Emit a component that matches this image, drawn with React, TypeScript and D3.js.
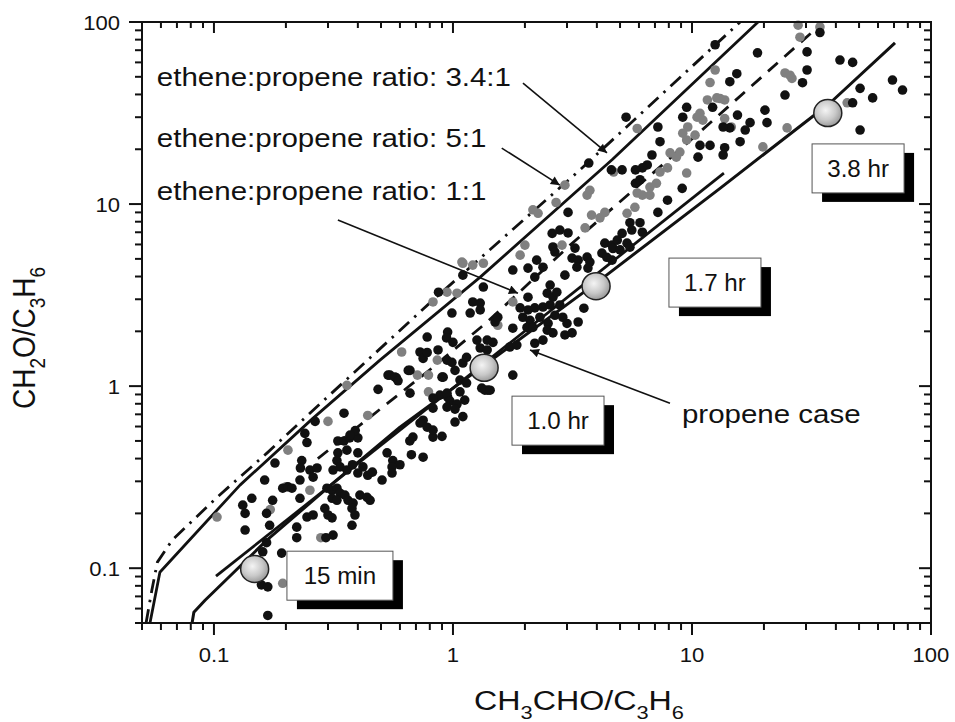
import React, { useEffect, useRef } from 'react';
import * as d3 from 'd3';

// axis tick labels
const xTickLabels = ['0.1', '1', '10', '100'];
const yTickLabels = ['0.1', '1', '10', '100'];

// measured samples, [CH3CHO/C3H6, CH2O/C3H6]
const blackPoints: [number, number][] = [
  [0.35, 0.71], [0.265, 0.64], [0.24, 0.55], [0.33, 0.5], [0.35, 0.5], [0.37, 0.52], [0.4, 0.52], [0.39, 0.57], [0.245, 0.49], [0.33, 0.43],
  [0.36, 0.445], [0.4, 0.43], [0.53, 0.43], [0.56, 0.39], [0.6, 0.37], [0.66, 0.5], [0.67, 0.42], [0.233, 0.39], [0.23, 0.355], [0.252, 0.346],
  [0.27, 0.355], [0.315, 0.346], [0.327, 0.39], [0.337, 0.36], [0.36, 0.346], [0.38, 0.37], [0.4, 0.333], [0.42, 0.36], [0.44, 0.324], [0.46, 0.337],
  [0.505, 0.305], [0.556, 0.36], [0.556, 0.333], [0.18, 0.378], [0.163, 0.305], [0.194, 0.275], [0.204, 0.28], [0.212, 0.275], [0.229, 0.305], [0.26, 0.316],
  [0.229, 0.242], [0.297, 0.275], [0.312, 0.268], [0.327, 0.275], [0.337, 0.258], [0.353, 0.252], [0.312, 0.242], [0.327, 0.236], [0.364, 0.236], [0.382, 0.228],
  [0.408, 0.252], [0.437, 0.245], [0.45, 0.236], [0.144, 0.242], [0.132, 0.222], [0.135, 0.2], [0.245, 0.191], [0.26, 0.196], [0.291, 0.213], [0.3, 0.196],
  [0.312, 0.189], [0.378, 0.213], [0.389, 0.196], [0.378, 0.172], [0.135, 0.162], [0.171, 0.172], [0.222, 0.168], [0.222, 0.147], [0.315, 0.152], [0.294, 0.147],
  [0.166, 0.138], [0.16, 0.123], [0.192, 0.121], [0.158, 0.081], [0.168, 0.079], [0.168, 0.055], [0.166, 0.2], [0.176, 0.236],
  [0.486, 0.96], [0.535, 1.15], [0.58, 1.11], [0.65, 1.22], [0.91, 1.12], [1.07, 0.93], [0.95, 0.87], [1.12, 0.838], [0.661, 0.915],
  [1.02, 0.635], [1.1, 0.68], [0.825, 0.525], [0.9, 0.53], [0.75, 0.65], [0.825, 0.757], [0.75, 0.407],
  [1.1, 4.07], [1.34, 3.5], [0.87, 3.28], [1.21, 2.9], [1.3, 2.86], [1.3, 2.62], [1.18, 2.52], [0.99, 2.52], [1.5, 2.25], [0.95, 1.98],
  [0.94, 1.84], [0.78, 1.86], [1.26, 1.79], [1.39, 1.79], [1.47, 1.74], [0.728, 1.54], [0.866, 1.58], [1.3, 1.62], [1.39, 1.58], [0.75, 1.42],
  [0.944, 1.39], [0.99, 1.35], [1.1, 1.34], [1.14, 1.44], [0.661, 1.22], [0.545, 1.15], [0.572, 1.12], [0.589, 1.07], [0.9, 1.12], [1.02, 1.22],
  [1.07, 1.08], [1.14, 1.04], [1.32, 0.975], [1.4, 0.951], [0.882, 0.893], [0.944, 0.915], [0.825, 0.86], [0.972, 0.828], [1.04, 0.797], [0.944, 0.767],
  [1.02, 0.748], [0.728, 0.627], [0.78, 0.595], [0.825, 0.573], [0.68, 0.525], [0.371, 0.538],
  [3.7, 16.8], [3.03, 9.0], [2.6, 6.9], [2.8, 7.2], [3.03, 6.94], [4.32, 6.1], [4.63, 5.95], [2.62, 5.81], [2.67, 5.45], [3.24, 5.73],
  [3.15, 5.05], [3.34, 4.92], [3.64, 5.11], [3.74, 4.8], [4.2, 5.38], [2.24, 4.92], [1.78, 4.34], [2.06, 4.45], [2.38, 4.5], [3.3, 4.5],
  [3.67, 4.45], [4.63, 4.92], [2.94, 4.07], [2.2, 3.97], [2.55, 3.59], [2.06, 3.08], [2.48, 3.24], [2.62, 3.08], [2.72, 3.28], [2.38, 2.72],
  [2.55, 2.79], [2.8, 2.79], [1.54, 2.39], [1.91, 2.69], [2.06, 2.62], [2.2, 2.69], [1.96, 2.39], [2.1, 2.3], [2.31, 2.39], [2.5, 2.21],
  [2.67, 2.45], [2.88, 2.39], [3.0, 2.21], [3.34, 2.25], [1.78, 2.08], [2.04, 2.1], [2.16, 2.1], [2.48, 2.03], [2.62, 1.96], [2.94, 1.91],
  [3.15, 1.96], [1.0, 1.74], [1.73, 1.64], [1.85, 1.68], [2.2, 1.72], [2.38, 1.79], [0.78, 1.53],
  [12.5, 75], [15.4, 52], [14.4, 47], [12.2, 34], [9.5, 34], [9.15, 30], [7.2, 26.5], [5.3, 30], [10.8, 21], [11.9, 21],
  [13.7, 20.4], [13.5, 18.6], [7.35, 22], [6.8, 18.6], [10.6, 18.1], [6.5, 16.4], [6.2, 15.8], [4.6, 15.4], [5.1, 15.4], [5.8, 15.4],
  [5.8, 13.0], [6.06, 13.6], [9.1, 12.2],
  [34.3, 87.5], [18.8, 67.7], [30.3, 68.5], [41.6, 61.8], [47, 60], [30.3, 54.5], [29, 46.4], [69, 48], [76, 42.3], [50.5, 43.2],
  [57, 38.3], [24.5, 39.7], [47, 36], [20.2, 32.8], [15.5, 30.8], [20.6, 28], [17.5, 28], [16.7, 25.5], [14.4, 26.2], [13.5, 26.5],
  [50.5, 25.5], [15.9, 22],
  [7.9, 10.5], [7.2, 9.0], [5.5, 7.9], [6.06, 7.9], [5.1, 6.9], [5.6, 7.2], [6.2, 7.0], [4.87, 6.34], [5.35, 6.1], [4.67, 5.7],
  [5.0, 5.6], [5.5, 5.8], [4.4, 5.1], [3.53, 2.68], [1.78, 1.15], [1.36, 0.95], [1.43, 0.95],
];

const greyPoints: [number, number][] = [
  [12.5, 54.5], [11.9, 46.5], [11.6, 37.3], [12.7, 38.3], [13.7, 37.3], [10.5, 30], [11.1, 28.9], [10.8, 31.5], [13.7, 29.5], [14.6, 26.5],
  [9.6, 26.5], [5.9, 26], [9.15, 24.5], [10.3, 23.9], [9.5, 22.5], [8.1, 19.1], [8.6, 18.1], [8.9, 19.3], [7.35, 15], [7.9, 15.8],
  [9.5, 14.8], [6.67, 12.4], [7.1, 13.0], [5.9, 11.5], [6.2, 11.2], [6.67, 11.2], [3.74, 11.9], [3.64, 11.2], [2.94, 12.7],
  [4.7, 15], [2.7, 10.2], [3.8, 8.7], [4.12, 8.4], [4.32, 9.0], [3.57, 7.4], [2.86, 5.95], [2.0, 5.95], [1.91, 5.24], [1.09, 4.8],
  [1.78, 2.9], [1.54, 2.16], [2.16, 9.3], [2.27, 8.9],
  [1.1, 4.73], [1.21, 4.62], [1.34, 4.73], [1.04, 3.24], [0.944, 3.28], [0.825, 2.9], [0.61, 1.54], [0.86, 1.39], [0.71, 1.15], [0.79, 1.15],
  [0.36, 1.01], [0.79, 0.93], [0.44, 0.69],
  [0.3, 0.64], [0.204, 0.445], [0.252, 0.268], [0.172, 0.21], [0.103, 0.191], [0.194, 0.0826], [0.28, 0.147], [0.2, 0.28],
  [27.8, 96], [28.3, 82.5], [34.3, 94], [24.5, 52.5], [25.7, 51], [26.2, 49], [44.6, 36], [13.1, 38], [25, 26.2], [19.8, 20.6],
  [5.77, 9.6], [5.35, 8.9],
];

// model curves
const ratio5Line: [number, number][] = [
  [0.052, 0.05], [0.055, 0.076], [0.058, 0.108], [0.067, 0.143], [0.103, 0.245], [0.167, 0.43], [0.315, 0.93], [0.825, 2.97], [3.4, 15.4], [15.9, 100],
];
const ratio34Line: [number, number][] = [
  [0.054, 0.05], [0.0594, 0.095], [0.1285, 0.286], [0.26, 0.667], [0.495, 1.39], [1.3, 3.97], [4.63, 17.5], [18.9, 100],
];
const ratio1Line: [number, number][] = [
  [0.272, 0.4], [0.825, 1.27], [1.39, 2.25], [3.09, 5.95], [9.17, 20.6], [34.3, 96],
];
const propeneLine: [number, number][] = [
  [0.081, 0.05], [0.0824, 0.0573], [0.0918, 0.0667], [0.167, 0.143], [0.315, 0.293], [0.6, 0.595], [1.35, 1.3], [3.97, 3.68], [13.1, 12.2], [37.8, 35.9], [70.7, 76.7],
];
const fitLine: [number, number][] = [[0.102, 0.0904], [13.6, 14.8]];

// elapsed-time markers on the propene case
const timeLabels = ['15 min', '1.0 hr', '1.7 hr', '3.8 hr'];
const timeX = [0.148, 1.35, 3.97, 37];
const timeY = [0.099, 1.26, 3.54, 31.6];
const timeBoxX = [0.202, 1.766, 8.01, 31.8];
const timeBoxY = [0.124, 0.881, 5.05, 21.4];

const ratioLabels = ['ethene:propene ratio: 3.4:1', 'ethene:propene ratio: 5:1', 'ethene:propene ratio: 1:1'];
const ratioLabelY = [44.5, 20.6, 10.5];
const arrowStarts: [number, number][] = [[1.963, 46.2], [1.6, 20.3], [0.33, 8.17], [8.09, 0.806]];
const arrowEnds: [number, number][] = [[4.41, 19.1], [2.8, 12.7], [1.87, 3.24], [2.1, 1.58]];

const FONT = '"Liberation Sans", Arial, Helvetica, sans-serif';

const App = () => {
  const svgRef = useRef<SVGSVGElement>(null);

  useEffect(() => {
    const width = 955;
    const height = 722;
    const margin = { top: 22, right: 24, bottom: 99, left: 142 };

    const svg = d3.select(svgRef.current)
      .attr('width', width)
      .attr('height', height)
      .style('position', 'absolute')
      .style('left', '0px')
      .style('top', '0px')
      .style('background', '#fff');

    svg.selectAll('*').remove();

    const x = d3.scaleLog().domain([0.05, 100]).range([margin.left, width - margin.right]);
    const y = d3.scaleLog().domain([0.05, 100]).range([height - margin.bottom, margin.top]);
    const [x0, x1] = x.range();
    const [y0, y1] = y.range();

    const defs = svg.append('defs');
    defs.append('marker')
      .attr('id', 'arrow')
      .attr('viewBox', '0 0 10 10')
      .attr('refX', 10)
      .attr('refY', 5)
      .attr('markerWidth', 13)
      .attr('markerHeight', 9)
      .attr('markerUnits', 'userSpaceOnUse')
      .attr('orient', 'auto')
      .append('path')
      .attr('d', 'M0,0 L10,5 L0,10 z')
      .attr('fill', '#111');

    const grad = defs.append('radialGradient')
      .attr('id', 'ball')
      .attr('cx', '42%')
      .attr('cy', '40%')
      .attr('r', '60%');
    grad.append('stop').attr('offset', '0%').attr('stop-color', '#f4f4f4');
    grad.append('stop').attr('offset', '60%').attr('stop-color', '#c9c9c9');
    grad.append('stop').attr('offset', '100%').attr('stop-color', '#9c9c9c');

    // stretched text helper (the original figure is slightly widened)
    const stretchText = (px: number, py: number, sx: number, size: number, anchor: string, txt: string) =>
      svg.append('text')
        .attr('transform', `translate(${px},${py}) scale(${sx},1)`)
        .attr('font-family', FONT)
        .attr('font-size', size)
        .attr('text-anchor', anchor)
        .attr('fill', '#111')
        .text(txt);

    // curves
    const line = d3.line<[number, number]>().x(d => x(d[0])).y(d => y(d[1]));
    const plot = svg.append('g');
    const curve = (pts: [number, number][], dash: string | null, w: number) => {
      const p = plot.append('path')
        .attr('d', line(pts))
        .attr('fill', 'none')
        .attr('stroke', '#111')
        .attr('stroke-width', w)
        .attr('stroke-linejoin', 'round');
      if (dash) p.attr('stroke-dasharray', dash);
    };
    curve(ratio5Line, '14 7 2.5 7', 2.8);
    curve(ratio34Line, null, 2.8);
    curve(ratio1Line, '13 9', 2.8);
    curve(propeneLine, null, 3);
    curve(fitLine, null, 2.8);

    // points
    plot.selectAll('.grey')
      .data(greyPoints)
      .enter()
      .append('circle')
      .attr('class', 'grey')
      .attr('cx', d => x(d[0]))
      .attr('cy', d => y(d[1]))
      .attr('r', 4.8)
      .attr('fill', '#808080');

    plot.selectAll('.black')
      .data(blackPoints)
      .enter()
      .append('circle')
      .attr('class', 'black')
      .attr('cx', d => x(d[0]))
      .attr('cy', d => y(d[1]))
      .attr('r', 4.8)
      .attr('fill', '#111');

    // arrows
    arrowStarts.forEach((s, i) => {
      svg.append('line')
        .attr('x1', x(s[0]))
        .attr('y1', y(s[1]))
        .attr('x2', x(arrowEnds[i][0]))
        .attr('y2', y(arrowEnds[i][1]))
        .attr('stroke', '#111')
        .attr('stroke-width', 1.6)
        .attr('marker-end', 'url(#arrow)');
    });

    // time markers with boxed labels
    timeLabels.forEach((lab, i) => {
      svg.append('ellipse')
        .attr('cx', x(timeX[i]))
        .attr('cy', y(timeY[i]))
        .attr('rx', 14)
        .attr('ry', 13.5)
        .attr('fill', 'url(#ball)')
        .attr('stroke', '#222')
        .attr('stroke-width', 1.5);

      const bx = x(timeBoxX[i]);
      const by = y(timeBoxY[i]);
      const bw = i === 0 ? 106 : 92;
      const bh = 49;
      svg.append('rect')
        .attr('x', bx + 10).attr('y', by + 9)
        .attr('width', bw).attr('height', bh)
        .attr('fill', '#000');
      svg.append('rect')
        .attr('x', bx).attr('y', by)
        .attr('width', bw).attr('height', bh)
        .attr('fill', '#fff')
        .attr('stroke', '#555')
        .attr('stroke-width', 1);
      stretchText(bx + bw / 2, by + bh / 2 + 8.5, 1.05, 23, 'middle', lab);
    });

    // annotations
    ratioLabels.forEach((lab, i) => {
      stretchText(x(0.0577), y(ratioLabelY[i]), 1.18, 25, 'start', lab);
    });
    stretchText(x(9.08), y(0.626), 1.18, 25, 'start', 'propene case');

    // frame
    svg.append('rect')
      .attr('x', x0).attr('y', y1)
      .attr('width', x1 - x0).attr('height', y0 - y1)
      .attr('fill', 'none')
      .attr('stroke', '#111')
      .attr('stroke-width', 2);

    const isMajor = (t: number) => Math.abs(Math.log10(t) - Math.round(Math.log10(t))) < 1e-6;
    const axes = svg.append('g').attr('stroke', '#111').attr('stroke-width', 2);
    x.ticks().forEach(t => {
      const px = x(t);
      const m = isMajor(t);
      axes.append('line').attr('x1', px).attr('x2', px).attr('y1', y0).attr('y2', y0 + (m ? 12 : 7));
      axes.append('line').attr('x1', px).attr('x2', px).attr('y1', y1).attr('y2', y1 + (m ? 11 : 6));
    });
    y.ticks().forEach(t => {
      const py = y(t);
      const m = isMajor(t);
      axes.append('line').attr('y1', py).attr('y2', py).attr('x1', x0).attr('x2', x0 - (m ? 13 : 7));
      axes.append('line').attr('y1', py).attr('y2', py).attr('x1', x1).attr('x2', x1 - (m ? 12 : 7));
    });

    // tick labels
    xTickLabels.forEach(l => {
      stretchText(x(+l), y0 + 39, 1.05, 21, 'middle', l);
    });
    yTickLabels.forEach(l => {
      stretchText(x0 - 22, y(+l) + 7.5, 1.05, 21, 'end', l);
    });

    // axis titles
    const xt = svg.append('text')
      .attr('transform', `translate(579,710) scale(1.15,1)`)
      .attr('font-family', FONT)
      .attr('font-size', 28)
      .attr('text-anchor', 'middle')
      .attr('fill', '#111');
    const parts = [['CH', false], ['3', true], ['CHO/C', false], ['3', true], ['H', false], ['6', true]] as [string, boolean][];
    const addParts = (t: d3.Selection<SVGTextElement, unknown, null, undefined>, ps: [string, boolean][]) => {
      let low = false;
      ps.forEach(([s, sub]) => {
        const dy = sub && !low ? 9 : !sub && low ? -9 : 0;
        low = sub;
        t.append('tspan').attr('dy', dy).attr('font-size', sub ? 19 : 28).text(s);
      });
    };
    addParts(xt, parts);

    const yt = svg.append('text')
      .attr('transform', `translate(35,338) scale(1.15,1) rotate(-90)`)
      .attr('font-family', FONT)
      .attr('font-size', 28)
      .attr('text-anchor', 'middle')
      .attr('fill', '#111');
    addParts(yt, [['CH', false], ['2', true], ['O/C', false], ['3', true], ['H', false], ['6', true]]);
  }, []);

  return <svg ref={svgRef}></svg>;
};

export default App;
